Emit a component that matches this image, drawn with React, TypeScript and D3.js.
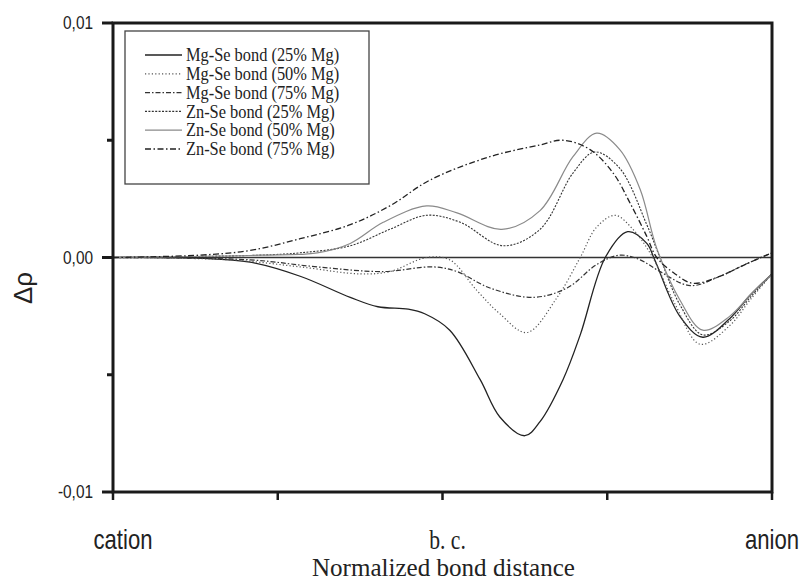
import * as React from "react";
import * as d3 from "d3";

// normalized bond distance (0 = cation, 1 = anion) and Δρ values
const mgSe25: [number, number][] = [
  [0, 0], [0.132, -0.00003], [0.208, -0.0002], [0.284, -0.0008], [0.36, -0.0017],
  [0.402, -0.0021], [0.448, -0.0022], [0.473, -0.0024], [0.511, -0.0031], [0.557, -0.0052],
  [0.587, -0.0068], [0.625, -0.0076], [0.648, -0.007], [0.683, -0.0052], [0.709, -0.0033],
  [0.747, 0], [0.781, 0.0011], [0.81, 0.0006], [0.822, -0.0001], [0.86, -0.0025],
  [0.895, -0.0034], [0.936, -0.0026], [0.967, -0.0016], [1, -0.0007],
];
const mgSe50: [number, number][] = [
  [0, 0], [0.178, -0.0001], [0.284, -0.0004], [0.375, -0.0007], [0.42, -0.0006],
  [0.476, 0], [0.511, -0.0001], [0.552, -0.0014], [0.587, -0.0024], [0.628, -0.0032],
  [0.674, -0.0017], [0.709, 0], [0.734, 0.0013], [0.762, 0.0018], [0.789, 0.0012],
  [0.819, 0], [0.853, -0.002], [0.891, -0.0037], [0.936, -0.0029], [0.967, -0.0018], [1, -0.0007],
];
const mgSe75: [number, number][] = [
  [0, 0], [0.208, -0.0001], [0.31, -0.0004], [0.41, -0.0006], [0.486, -0.0004],
  [0.522, -0.0006], [0.572, -0.0013], [0.637, -0.0017], [0.689, -0.0013], [0.734, -0.0003],
  [0.769, 0.0001], [0.8, -0.0001], [0.83, -0.0006], [0.876, -0.0012], [0.921, -0.0008],
  [0.959, -0.0003], [1, 0.0002],
];
const znSe25: [number, number][] = [
  [0, 0], [0.223, 0.0001], [0.284, 0.0002], [0.36, 0.0005], [0.42, 0.0012],
  [0.476, 0.0018], [0.527, 0.0015], [0.592, 0.0005], [0.648, 0.0012], [0.698, 0.0036],
  [0.731, 0.0045], [0.769, 0.0038], [0.81, 0.0014], [0.83, 0], [0.86, -0.002],
  [0.895, -0.0033], [0.936, -0.0027], [0.967, -0.0017], [1, -0.0007],
];
const znSe50: [number, number][] = [
  [0, 0], [0.223, 0.0001], [0.31, 0.0002], [0.36, 0.0006], [0.41, 0.0015],
  [0.476, 0.0022], [0.522, 0.0019], [0.59, 0.0012], [0.648, 0.002], [0.698, 0.0043],
  [0.734, 0.0053], [0.769, 0.0046], [0.8, 0.0029], [0.825, 0.0004], [0.86, -0.0018],
  [0.895, -0.0031], [0.936, -0.0025], [0.967, -0.0016], [1, -0.0007],
];
const znSe75: [number, number][] = [
  [0, 0], [0.132, 0.0001], [0.208, 0.0003], [0.284, 0.0008], [0.36, 0.0014],
  [0.42, 0.0022], [0.481, 0.0033], [0.572, 0.0043], [0.648, 0.0048], [0.683, 0.005],
  [0.724, 0.0046], [0.759, 0.0036], [0.785, 0.0023], [0.81, 0.0009], [0.825, 0],
  [0.853, -0.0007], [0.88, -0.0011], [0.921, -0.0008], [0.959, -0.0003], [1, 0.0002],
];

const seriesNames = [
  "Mg-Se bond (25% Mg)",
  "Mg-Se bond (50% Mg)",
  "Mg-Se bond (75% Mg)",
  "Zn-Se bond (25% Mg)",
  "Zn-Se bond (50% Mg)",
  "Zn-Se bond (75% Mg)",
];
const seriesData = [mgSe25, mgSe50, mgSe75, znSe25, znSe50, znSe75];
const seriesStyle = [
  { stroke: "#222", dash: "none", w: 1.3 },
  { stroke: "#555", dash: "1.2,2.2", w: 1.2 },
  { stroke: "#333", dash: "5,2,1.5,2", w: 1.2 },
  { stroke: "#333", dash: "2,1.4", w: 1.1 },
  { stroke: "#8a8a8a", dash: "none", w: 1.2 },
  { stroke: "#222", dash: "6,2.5,1.5,2.5", w: 1.3 },
];

const xTicks = [0, 0.25, 0.5, 0.75, 1];
const xTickLabels: { v: number; text: string; serif: boolean; sx: number; dx: number }[] = [
  { v: 0, text: "cation", serif: false, sx: 0.82, dx: 10 },
  { v: 0.5, text: "b. c.", serif: true, sx: 0.8, dx: 5 },
  { v: 1, text: "anion", serif: false, sx: 0.82, dx: 0 },
];
const yMajor = [0.01, 0, -0.01];
const yMinor = [0.005, -0.005];
const yLabels = ["0,01", "0,00", "-0,01"];

const W = 807;
const H = 581;

export default function App() {
  const x = d3.scaleLinear().domain([0, 1]).range([113, 772]);
  const y = d3.scaleLinear().domain([-0.01, 0.01]).range([492, 23]);

  const line = d3
    .line<[number, number]>()
    .x((d) => x(d[0]))
    .y((d) => y(d[1]))
    .curve(d3.curveCatmullRom.alpha(0.5));

  const sans = "'Liberation Sans', Arial, sans-serif";
  const serif = "'Liberation Serif', 'Times New Roman', serif";

  const legX = 125, legY = 31, legW = 244, legH = 153;

  return (
    <div style={{ position: "absolute", left: 0, top: 0 }}>
      <svg width={W} height={H} style={{ background: "#fff", display: "block" }}>
        {/* zero line */}
        <line x1={x(0)} x2={x(1)} y1={y(0)} y2={y(0)} stroke="#333" strokeWidth={1.6} />

        {seriesData.map((d, i) => (
          <path
            key={i}
            d={line(d) || ""}
            fill="none"
            stroke={seriesStyle[i].stroke}
            strokeWidth={seriesStyle[i].w}
            strokeDasharray={seriesStyle[i].dash}
          />
        ))}

        {/* frame */}
        <rect
          x={x(0)}
          y={y(0.01)}
          width={x(1) - x(0)}
          height={y(-0.01) - y(0.01)}
          fill="none"
          stroke="#1a1a1a"
          strokeWidth={3}
        />

        {/* y ticks */}
        {yMajor.map((v, i) => (
          <g key={"ym" + i}>
            <line x1={x(0) - 11} x2={x(0)} y1={y(v)} y2={y(v)} stroke="#1a1a1a" strokeWidth={3} />
            <text
              transform={`translate(${x(0) - 20},${y(v)}) scale(0.88,1)`}
              dy="0.36em"
              textAnchor="end"
              fontFamily={sans}
              fontSize={17.5}
              fill="#222"
            >
              {yLabels[i]}
            </text>
          </g>
        ))}
        {yMinor.map((v, i) => (
          <line key={"yn" + i} x1={x(0) - 6} x2={x(0)} y1={y(v)} y2={y(v)} stroke="#1a1a1a" strokeWidth={3} />
        ))}

        {/* x ticks */}
        {xTicks.map((v, i) => (
          <line key={"xt" + i} x1={x(v)} x2={x(v)} y1={y(-0.01)} y2={y(-0.01) + 8} stroke="#1a1a1a" strokeWidth={2.5} />
        ))}
        {xTickLabels.map((t, i) => (
          <text
            key={"xl" + i}
            transform={`translate(${x(t.v) + t.dx},549) scale(${t.sx},1)`}
            textAnchor="middle"
            fontFamily={t.serif ? serif : sans}
            fontSize={27}
            fill="#222"
          >
            {t.text}
          </text>
        ))}

        {/* axis titles */}
        <text
          x={312}
          y={576}
          fontFamily={serif}
          fontSize={25}
          textLength={263}
          lengthAdjust="spacingAndGlyphs"
          fill="#222"
        >
          Normalized bond distance
        </text>
        <text
          transform="translate(32,288) rotate(-90)"
          textAnchor="middle"
          fontFamily={sans}
          fontSize={26}
          fill="#222"
        >
          Δρ
        </text>

        {/* legend */}
        <rect x={legX} y={legY} width={legW} height={legH} fill="#fff" stroke="#444" strokeWidth={1.3} />
        {seriesNames.map((name, i) => {
          const ry = 55 + i * 18.8;
          return (
            <g key={"lg" + i}>
              <line
                x1={145}
                x2={182}
                y1={ry}
                y2={ry}
                stroke={seriesStyle[i].stroke}
                strokeWidth={seriesStyle[i].w}
                strokeDasharray={seriesStyle[i].dash}
              />
              <text
                transform={`translate(186,${ry}) scale(0.91,1)`}
                dy="0.34em"
                fontFamily={serif}
                fontSize={18}
                fill="#222"
              >
                {name}
              </text>
            </g>
          );
        })}
      </svg>
    </div>
  );
}
